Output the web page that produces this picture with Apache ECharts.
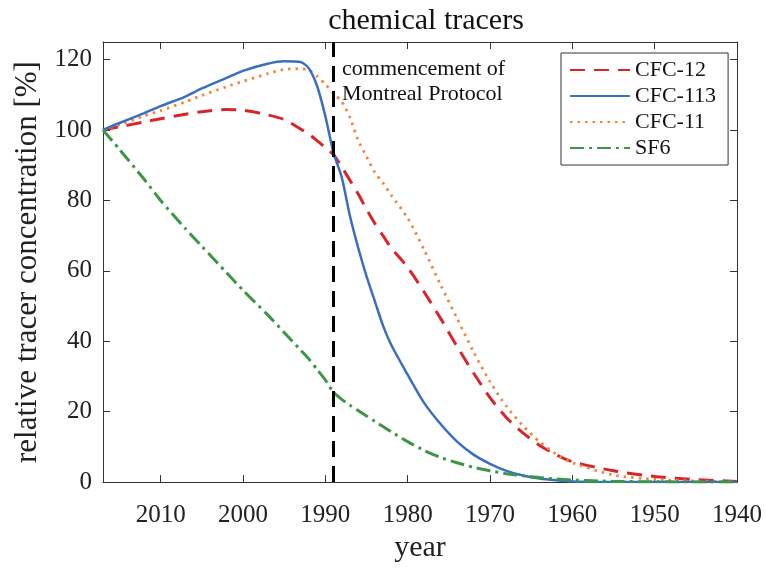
<!DOCTYPE html>
<html>
<head>
<meta charset="utf-8">
<title>chemical tracers</title>
<script src="https://cdn.jsdelivr.net/npm/echarts@6/dist/echarts.min.js"></script>
<style>
	html, body { margin: 0; padding: 0; background: #fff; }
	#chart { width: 766px; height: 568px; }
</style>
</head>
<body>
<div id="chart"></div>
<script>
'use strict';

// years (x axis runs backwards in time)
var years = [2017, 2015, 2012, 2010, 2007, 2005, 2002, 2000, 1997, 1995, 1993, 1992, 1991, 1990,
	1989, 1988, 1987, 1986, 1985, 1984, 1983, 1982, 1980, 1978, 1976, 1974, 1972, 1970,
	1968, 1966, 1964, 1962, 1960, 1955, 1950, 1945, 1940];

var cfc12 = [100, 100.9, 102.3, 103.2, 104.5, 105.2, 105.8, 105.6, 104.3, 103, 100.3, 98.8, 97, 95,
	93, 89.5, 85.7, 81.8, 77.5, 73.5, 70, 66.5, 61, 54, 46.5, 38.5, 31, 24,
	18.3, 14, 10.5, 7.8, 5.8, 3.2, 1.6, 0.7, 0.2];

var cfc113 = [100, 102, 104.8, 106.8, 109.5, 111.8, 114.8, 116.8, 118.8, 119.5, 119.3, 117.5, 112.5, 104,
	93.5, 86.5, 75.5, 66.5, 58.5, 51.5, 44.5, 39, 30.5, 22.5, 16.5, 11.5, 7.8, 5.2,
	3.2, 1.9, 1.0, 0.5, 0.2, 0.05, 0, 0, 0];

var cfc11 = [100, 101.5, 104, 105.5, 108, 109.8, 112.3, 113.8, 116, 117.2, 117.4, 117, 115.3, 113,
	110.5, 108, 103.5, 97, 92.5, 88, 85, 81.5, 75, 66, 56, 46.5, 37, 28.5,
	21.5, 16, 11.5, 8, 5.5, 2, 0.8, 0.3, 0.1];

var sf6 = [100, 94.5, 86, 80, 72, 67, 59.5, 54.5, 47.5, 42.5, 37.5, 35, 32, 29,
	25.5, 23.5, 21.8, 20.3, 18.8, 17.3, 15.8, 14.3, 11.5, 9, 7, 5.5, 4.2, 3.2,
	2.4, 1.8, 1.3, 0.9, 0.6, 0.2, 0.1, 0, 0];

var xTicks = [2010, 2000, 1990, 1980, 1970, 1960, 1950, 1940];
var yTicks = [0, 20, 40, 60, 80, 100, 120];
var protocolYear = 1989;

var serif = '"Liberation Serif", "DejaVu Serif", serif',
		axisColor = '#333';

function pairs(vals) {
	return years.map(function (y, i) {
		return [y, vals[i]];
	});
}

function makeXAxis(pos, showLabels) {
	return {
		type: 'value',
		position: pos,
		min: 1940,
		max: 2017,
		interval: 10,
		inverse: true,
		name: showLabels ? 'year' : '',
		nameLocation: 'middle',
		nameGap: 46,
		nameTextStyle: { fontFamily: serif, fontSize: 30, color: '#222' },
		axisLine: { show: true, onZero: false, lineStyle: { color: axisColor, width: 1 } },
		axisTick: {
			show: true, inside: true, length: 7,
			lineStyle: { color: axisColor },
			customValues: xTicks
		},
		axisLabel: {
			show: showLabels,
			margin: 21,
			fontFamily: serif,
			fontSize: 25,
			color: '#222',
			customValues: xTicks,
			formatter: function (v) { return xTicks.indexOf(v) >= 0 ? String(v) : ''; }
		},
		splitLine: { show: false }
	};
}

function makeYAxis(pos, showLabels) {
	return {
		type: 'value',
		position: pos,
		min: 0,
		max: 125,
		interval: 20,
		name: showLabels ? 'relative tracer concentration [%]' : '',
		nameLocation: 'middle',
		nameGap: 55,
		nameTextStyle: { fontFamily: serif, fontSize: 31, color: '#222' },
		axisLine: { show: true, lineStyle: { color: axisColor, width: 1 } },
		axisTick: {
			show: true, inside: true, length: 7,
			lineStyle: { color: axisColor },
			customValues: yTicks
		},
		axisLabel: {
			show: showLabels,
			margin: 11,
			fontFamily: serif,
			fontSize: 25,
			color: '#222',
			customValues: yTicks,
			formatter: function (v) { return yTicks.indexOf(v) >= 0 ? String(v) : ''; }
		},
		splitLine: { show: false }
	};
}

function lineSeries(name, vals, color, width, dash) {
	return {
		name: name,
		type: 'line',
		data: pairs(vals),
		symbol: 'none',
		smooth: 0.25,
		lineStyle: { color: color, width: width, type: dash },
		itemStyle: { color: color }
	};
}

var chart = echarts.init(document.getElementById('chart'));

var s12 = lineSeries('CFC-12', cfc12, '#d7262b', 3, [15, 9]);
// vertical marker for the Montreal Protocol
s12.markLine = {
	silent: true,
	symbol: 'none',
	label: { show: false },
	lineStyle: { color: '#000', width: 3, type: [16, 9] },
	data: [{ xAxis: protocolYear }]
};

chart.setOption({
	animation: false,
	title: {
		text: 'chemical tracers',
		left: 421,
		textAlign: 'center',
		top: 1,
		textStyle: { fontFamily: serif, fontSize: 30, fontWeight: 'normal', color: '#111' }
	},
	grid: { left: 103, right: 29, top: 42, bottom: 79 },
	legend: {
		orient: 'vertical',
		left: 561,
		top: 53,
		padding: [6, 12, 6, 8],
		itemGap: 4,
		itemWidth: 60,
		itemHeight: 14,
		backgroundColor: '#fff',
		borderColor: '#333',
		borderWidth: 1,
		// hide the marker dot, keep only the line sample
		itemStyle: { opacity: 0 },
		textStyle: { fontFamily: serif, fontSize: 22, color: '#111' },
		data: ['CFC-12', 'CFC-113', 'CFC-11', 'SF6']
	},
	xAxis: [makeXAxis('bottom', true), makeXAxis('top', false)],
	yAxis: [makeYAxis('left', true), makeYAxis('right', false)],
	graphic: [
		{
			type: 'text',
			left: 342,
			top: 57,
			style: {
				text: 'commencement of\nMontreal Protocol',
				fontFamily: serif,
				fontSize: 22,
				lineHeight: 25,
				fill: '#111'
			}
		}
	],
	series: [
		s12,
		lineSeries('CFC-11', cfc11, '#ee873c', 2.8, [2.5, 5]),
		lineSeries('CFC-113', cfc113, '#3a6ebf', 2.5, 'solid'),
		lineSeries('SF6', sf6, '#3c9645', 3, [14, 5, 3, 5])
	]
});
</script>
</body>
</html>
